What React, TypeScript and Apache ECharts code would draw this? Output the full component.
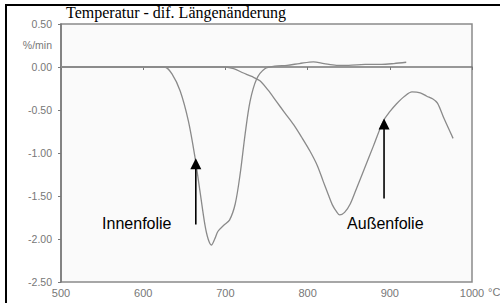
import React, { useEffect, useRef } from "react";
import * as echarts from "echarts";

const titleText = "Temperatur - dif. Längenänderung";
const yUnit = "%/min";
const xUnit = "°C";

const innenTemps = [500, 600, 626, 635, 645, 655, 663, 669, 675, 679, 683, 687, 691, 698, 705, 712, 718, 724, 730, 738, 748, 760, 775, 790, 807, 820, 835, 850, 870, 890, 905, 920];
const innenValues = [0, 0, 0, -0.08, -0.28, -0.63, -1.05, -1.44, -1.83, -2.0, -2.07, -2.0, -1.91, -1.84, -1.78, -1.59, -1.24, -0.78, -0.4, -0.14, -0.02, 0.01, 0.02, 0.04, 0.06, 0.04, 0.02, 0.02, 0.03, 0.03, 0.04, 0.055];

const aussenTemps = [500, 600, 700, 710, 722, 732, 742, 752, 762, 772, 783, 793, 803, 812, 819, 825, 830, 835, 839, 845, 852, 860, 868, 880, 892, 900, 908, 918, 927, 937, 945, 952, 958, 966, 977];
const aussenValues = [0, 0, 0, -0.02, -0.07, -0.11, -0.16, -0.27, -0.4, -0.53, -0.67, -0.82, -0.98, -1.15, -1.33, -1.48, -1.6, -1.68, -1.72, -1.69, -1.59, -1.4, -1.21, -0.92, -0.63, -0.52, -0.43, -0.34, -0.29, -0.3, -0.34, -0.37, -0.42, -0.6, -0.83];

// annotations: label anchor [temp, value], arrow [temp, bottomValue, tipValue]
const annotationNames = ["Innenfolie", "Außenfolie"];
const labelAnchors = [[550, -1.82], [848, -1.82]];
const arrowSpecs = [[664, -1.83, -1.06], [893, -1.53, -0.6]];

export default function App() {
  const ref = useRef<HTMLDivElement>(null);
  useEffect(() => {
    if (!ref.current) return;
    const chart = echarts.init(ref.current, undefined, { renderer: "svg" });
    const lineStyle = { color: "#8a8a8a", width: 1.3 };
    chart.setOption({
      animation: false,
      backgroundColor: "#ffffff",
      grid: { left: 61, right: 28, top: 24, bottom: 21, show: true, borderColor: "#8a8a8a", borderWidth: 1.5, backgroundColor: "#fafafa" },
      xAxis: {
        type: "value",
        min: 500,
        max: 1000,
        interval: 100,
        splitLine: { show: false },
        axisLine: { lineStyle: { color: "#777", width: 1.5 } },
        axisTick: { show: true, length: 3, lineStyle: { color: "#777" } },
        axisLabel: { color: "#777", fontSize: 11, fontFamily: "Liberation Sans, Arial", margin: 5, formatter: (v: number) => String(v) },
      },
      yAxis: {
        type: "value",
        min: -2.5,
        max: 0.5,
        interval: 0.5,
        splitLine: { show: false },
        axisLine: { show: true, lineStyle: { color: "#777", width: 1.5 } },
        axisTick: { show: true, length: 3, lineStyle: { color: "#777" } },
        axisLabel: { color: "#777", fontSize: 10.5, fontFamily: "Liberation Sans, Arial", margin: 9, formatter: (v: number) => v.toFixed(2) },
      },
      series: [
        { type: "line", name: "Innenfolie", data: innenTemps.map((t, i) => [t, innenValues[i]]), showSymbol: false, smooth: 0.3, lineStyle, z: 3 },
        { type: "line", name: "Außenfolie", data: aussenTemps.map((t, i) => [t, aussenValues[i]]), showSymbol: false, smooth: 0.3, lineStyle, z: 3 },
      ],
    });

    const graphics: any[] = [
      { type: "rect", shape: { x: 6, y: 5, width: 520, height: 320 }, style: { fill: "none", stroke: "#000", lineWidth: 2 }, z: 10 },
      { type: "text", x: 66, y: 20, style: { text: titleText, fill: "#000", font: "16px 'Liberation Serif', 'Times New Roman', serif", verticalAlign: "bottom" }, z: 10 },
      { type: "text", x: 52, y: 45, style: { text: yUnit, fill: "#777", font: "10.5px 'Liberation Sans', Arial", align: "right", verticalAlign: "middle" }, z: 10 },
      { type: "text", x: 488, y: 292, style: { text: xUnit, fill: "#777", font: "11px 'Liberation Sans', Arial", align: "left", verticalAlign: "middle" }, z: 10 },
    ];
    annotationNames.forEach((name, i) => {
      const p = chart.convertToPixel({ gridIndex: 0 }, labelAnchors[i]) as number[];
      graphics.push({ type: "text", x: p[0], y: p[1], style: { text: name, fill: "#000", font: "16px 'Liberation Sans', Arial", align: "left", verticalAlign: "middle" }, z: 10 });
      const a = arrowSpecs[i];
      const b = chart.convertToPixel({ gridIndex: 0 }, [a[0], a[1]]) as number[];
      const t = chart.convertToPixel({ gridIndex: 0 }, [a[0], a[2]]) as number[];
      graphics.push({ type: "line", shape: { x1: b[0], y1: b[1], x2: t[0], y2: t[1] + 8 }, style: { stroke: "#000", lineWidth: 1.6 }, z: 10 });
      graphics.push({ type: "polygon", shape: { points: [[t[0], t[1]], [t[0] - 5.5, t[1] + 11], [t[0] + 5.5, t[1] + 11]] }, style: { fill: "#000" }, z: 10 });
    });
    chart.setOption({ graphic: graphics });
    return () => chart.dispose();
  }, []);
  return <div ref={ref} style={{ position: "fixed", left: 0, top: 0, width: 500, height: 303 }} />;
}
